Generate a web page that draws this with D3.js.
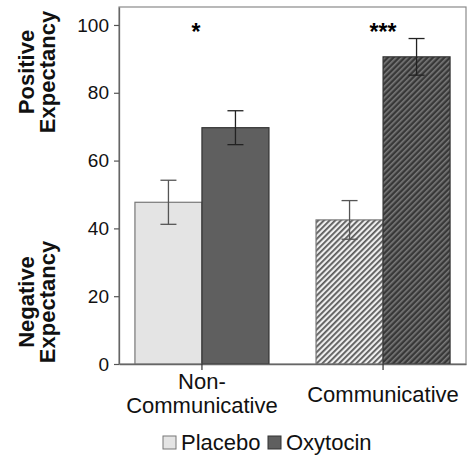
<!DOCTYPE html>
<html>
<head>
<meta charset="utf-8">
<script src="https://cdn.jsdelivr.net/npm/d3@7"></script>
<style>
  body { margin: 0; background: #fff; }
  text { font-family: "Liberation Sans", Arial, sans-serif; }
</style>
</head>
<body>
<script>
var categories = ['Non-Communicative', 'Communicative'];
var catLines = [['Non-', 'Communicative'], ['Communicative']];
var groups = ['Placebo', 'Oxytocin'];
var placebo = [47.7, 42.5];
var placeboErr = [6.5, 5.7];
var oxytocin = [69.7, 90.6];
var oxytocinErr = [5.0, 5.4];
var stars = ['*', '***'];
var yTicks = [0, 20, 40, 60, 80, 100];

var width = 469, height = 457;
var margin = {left: 119, right: 3, top: 7, bottom: 93};

var svg = d3.select('body').append('svg')
	.attr('width', width).attr('height', height);

// hatch patterns for the communicative bars
var defs = svg.append('defs');
function hatch(id, bg, fg, w) {
	var p = defs.append('pattern')
		.attr('id', id)
		.attr('patternUnits', 'userSpaceOnUse')
		.attr('width', 4).attr('height', 4)
		.attr('patternTransform', 'rotate(45)');
	p.append('rect').attr('width', 4).attr('height', 4).attr('fill', bg);
	p.append('rect').attr('width', w).attr('height', 4).attr('fill', fg);
}
hatch('hatchP', '#eeeeee', '#5a5a5a', 1.8);
hatch('hatchO', '#383838', '#7a7a7a', 1.6);

var x0 = d3.scaleBand()
	.domain(categories)
	.range([margin.left, width - margin.right])
	.paddingInner(0.26)
	.paddingOuter(0.088);
var x1 = d3.scaleBand()
	.domain(groups)
	.range([0, x0.bandwidth()]);
var y = d3.scaleLinear()
	.domain([0, 105.3])
	.range([height - margin.bottom, margin.top]);

// frame
svg.append('rect')
	.attr('x', margin.left).attr('y', margin.top)
	.attr('width', width - margin.right - margin.left)
	.attr('height', y(0) - margin.top)
	.attr('fill', 'none').attr('stroke', '#8a8a8a').attr('stroke-width', 1.2);

var rows = [];
categories.forEach(function (c, i) {
	rows.push({cat: c, grp: 'Placebo', v: placebo[i], e: placeboErr[i], i: i});
	rows.push({cat: c, grp: 'Oxytocin', v: oxytocin[i], e: oxytocinErr[i], i: i});
});

function fillFor(d) {
	if (d.i === 0) return d.grp === 'Placebo' ? '#e4e4e4' : '#5f5f5f';
	return d.grp === 'Placebo' ? 'url(#hatchP)' : 'url(#hatchO)';
}

svg.selectAll('.bar').data(rows).enter().append('rect')
	.attr('class', 'bar')
	.attr('x', function (d) { return x0(d.cat) + x1(d.grp); })
	.attr('y', function (d) { return y(d.v); })
	.attr('width', x1.bandwidth())
	.attr('height', function (d) { return y(0) - y(d.v); })
	.attr('fill', fillFor)
	.attr('stroke', function (d) { return d.grp === 'Placebo' ? '#777' : '#333'; })
	.attr('stroke-width', 1.2);

// error bars
var eb = svg.selectAll('.err').data(rows).enter().append('g')
	.attr('class', 'err')
	.attr('stroke', function (d) { return d.grp === 'Placebo' ? '#555' : '#222'; })
	.attr('stroke-width', 1.3);
eb.append('line')
	.attr('x1', function (d) { return x0(d.cat) + x1(d.grp) + x1.bandwidth() / 2; })
	.attr('x2', function (d) { return x0(d.cat) + x1(d.grp) + x1.bandwidth() / 2; })
	.attr('y1', function (d) { return y(d.v + d.e); })
	.attr('y2', function (d) { return y(d.v - d.e); });
[1, -1].forEach(function (s) {
	eb.append('line')
		.attr('x1', function (d) { return x0(d.cat) + x1(d.grp) + x1.bandwidth() / 2 - 8; })
		.attr('x2', function (d) { return x0(d.cat) + x1(d.grp) + x1.bandwidth() / 2 + 8; })
		.attr('y1', function (d) { return y(d.v + s * d.e); })
		.attr('y2', function (d) { return y(d.v + s * d.e); });
});

// axes
var yAxis = svg.append('g')
	.attr('transform', 'translate(' + margin.left + ',0)')
	.call(d3.axisLeft(y).tickValues(yTicks).tickSize(5).tickSizeOuter(0).tickPadding(5));
yAxis.select('.domain').attr('stroke', '#666').attr('stroke-width', 1.3);
yAxis.selectAll('.tick line').attr('stroke', '#555').attr('stroke-width', 1.2);
yAxis.selectAll('.tick text').attr('font-size', 19).attr('fill', '#111')
	.attr('font-family', '"Liberation Sans", Arial, sans-serif');

var xAxis = svg.append('g')
	.attr('transform', 'translate(0,' + y(0) + ')')
	.call(d3.axisBottom(x0).tickSize(6).tickSizeOuter(0).tickFormat(''));
xAxis.select('.domain').attr('stroke', '#666').attr('stroke-width', 1.3);
xAxis.selectAll('.tick line').attr('stroke', '#333').attr('stroke-width', 1.2);

// category labels
categories.forEach(function (c, i) {
	var lines = catLines[i];
	var t = svg.append('text')
		.attr('text-anchor', 'middle')
		.attr('font-size', 22)
		.attr('fill', '#111');
	lines.forEach(function (l, k) {
		t.append('tspan')
			.attr('x', x0(c) + x0.bandwidth() / 2)
			.attr('y', (lines.length === 2 ? 389 : 402) + k * 24)
			.text(l);
	});
});

// significance stars
svg.selectAll('.star').data(categories).enter().append('text')
	.attr('class', 'star')
	.attr('x', function (c) { return x0(c) + x0.bandwidth() / 2 - (c === categories[0] ? 6 : 0); })
	.attr('y', 40)
	.attr('text-anchor', 'middle')
	.attr('font-size', 23)
	.attr('font-weight', 'bold')
	.text(function (c, i) { return stars[i]; });

// y titles
function ytitle(lines, cy) {
	lines.forEach(function (l, k) {
		svg.append('text')
			.attr('transform', 'translate(' + (34 + k * 21) + ',' + cy + ') rotate(-90)')
			.attr('text-anchor', 'middle')
			.attr('font-size', 22)
			.attr('font-weight', 'bold')
			.attr('fill', '#111')
			.text(l);
	});
}
ytitle(['Positive', 'Expectancy'], 72);
ytitle(['Negative', 'Expectancy'], 302);

// legend
var legend = svg.append('g').attr('transform', 'translate(163,436)');
var lx = [0, 105];
groups.forEach(function (g, i) {
	legend.append('rect')
		.attr('x', lx[i]).attr('y', 0)
		.attr('width', 13).attr('height', 13)
		.attr('fill', i === 0 ? '#e4e4e4' : '#5f5f5f')
		.attr('stroke', i === 0 ? '#777' : '#333');
	legend.append('text')
		.attr('x', lx[i] + 18).attr('y', 14)
		.attr('font-size', 22)
		.attr('fill', '#111')
		.text(g);
});
</script>
</body>
</html>
